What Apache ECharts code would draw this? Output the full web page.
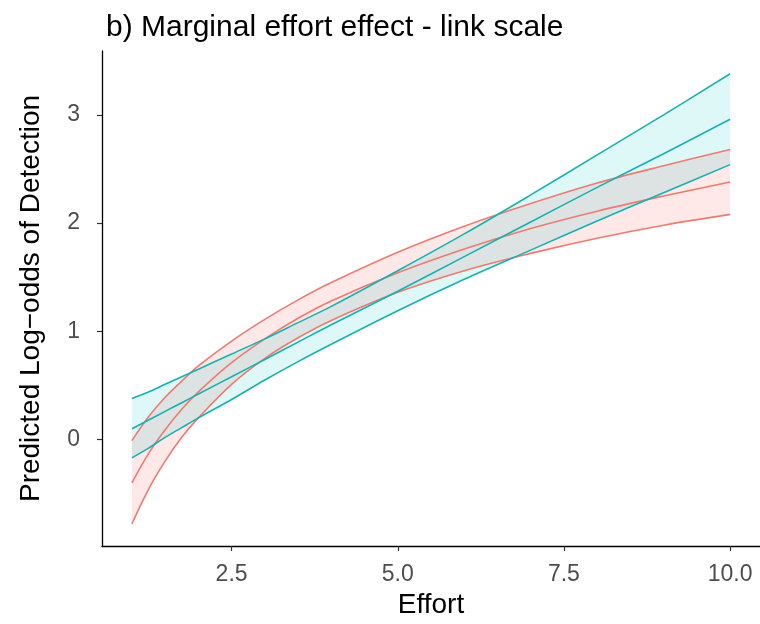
<!DOCTYPE html>
<html>
<head>
<meta charset="utf-8">
<title>Marginal effort effect - link scale</title>
<script src="https://cdn.jsdelivr.net/npm/echarts@6.0.0/dist/echarts.min.js"></script>
<style>
  html, body { margin: 0; padding: 0; background: #fff; }
  #chart { width: 760px; height: 624px; }
</style>
</head>
<body>
<div id="chart"></div>
<script>
const effort = [1, 1.25, 1.5, 1.75, 2, 2.5, 3, 3.5, 4, 5, 6, 7, 8, 9, 10];

// Linear model (teal)
const linMean  = [0.10, 0.18, 0.26, 0.34, 0.42, 0.58, 0.74, 0.90, 1.06, 1.37, 1.69, 2.01, 2.33, 2.64, 2.96];
const linUpper = [0.38, 0.44, 0.51, 0.58, 0.65, 0.79, 0.93, 1.08, 1.23, 1.56, 1.90, 2.26, 2.63, 3.00, 3.38];
const linLower = [-0.17, -0.08, 0.02, 0.11, 0.20, 0.37, 0.55, 0.72, 0.88, 1.19, 1.48, 1.75, 2.02, 2.28, 2.54];

// Log model (red)
const logMean  = [-0.40, -0.13, 0.09, 0.28, 0.44, 0.71, 0.93, 1.12, 1.28, 1.54, 1.76, 1.95, 2.11, 2.25, 2.38];
const logUpper = [-0.01, 0.21, 0.39, 0.54, 0.68, 0.91, 1.11, 1.29, 1.45, 1.73, 1.97, 2.18, 2.37, 2.53, 2.68];
const logLower = [-0.78, -0.46, -0.20, 0.02, 0.20, 0.51, 0.75, 0.94, 1.10, 1.36, 1.56, 1.72, 1.86, 1.98, 2.08];

const xTicks = [2.5, 5, 7.5, 10];
const yTicks = [0, 1, 2, 3];

const RED = '#EE7B71';
const TEAL = '#19B1AF';

const pairs = (ys) => effort.map((x, i) => [x, ys[i]]);

// Ribbon as one polygon: upper edge left->right, lower edge back
function ribbon(lo, hi, fill) {
  return {
    type: 'custom',
    silent: true,
    z: 1,
    data: [0],
    renderItem: (params, api) => {
      const pts = [];
      effort.forEach((x, i) => pts.push(api.coord([x, hi[i]])));
      for (let i = effort.length - 1; i >= 0; i--) pts.push(api.coord([effort[i], lo[i]]));
      return { type: 'polygon', shape: { points: pts }, style: { fill } };
    }
  };
}

function curve(ys, color) {
  return {
    type: 'line', data: pairs(ys), smooth: 0.35, showSymbol: false, silent: true,
    lineStyle: { color, width: 1.6 }, z: 3
  };
}

const chart = echarts.init(document.getElementById('chart'), null, { renderer: 'canvas' });
chart.setOption({
  animation: false,
  backgroundColor: '#fff',
  textStyle: { fontFamily: 'Liberation Sans, Arial, sans-serif' },
  title: {
    text: 'b) Marginal effort effect - link scale',
    left: 101, top: 8,
    textStyle: { fontSize: 30, fontWeight: 'normal', color: '#000' }
  },
  grid: { left: 102, right: 0, top: 51, bottom: 78, outerBoundsMode: 'none' },
  xAxis: {
    type: 'value', min: 0.55, max: 10.45,
    name: 'Effort', nameLocation: 'middle', nameGap: 45,
    nameTextStyle: { fontSize: 28, color: '#000' },
    axisLine: { show: true, onZero: false, lineStyle: { color: '#000', width: 1.3 } },
    axisTick: { show: true, length: 5, customValues: xTicks, lineStyle: { color: '#333', width: 1.2 } },
    axisLabel: { fontSize: 23, color: '#4D4D4D', margin: 17, customValues: xTicks, formatter: (v) => v.toFixed(1) },
    splitLine: { show: false }
  },
  yAxis: {
    type: 'value', min: -0.984, max: 3.59,
    name: 'Predicted Log\u2212odds of Detection', nameLocation: 'middle', nameGap: 57,
    nameTextStyle: { fontSize: 28, color: '#000' },
    axisLine: { show: true, onZero: false, lineStyle: { color: '#000', width: 1.3 } },
    axisTick: { show: true, length: 5, customValues: yTicks, lineStyle: { color: '#333', width: 1.2 } },
    axisLabel: { fontSize: 23, color: '#4D4D4D', margin: 22, customValues: yTicks },
    splitLine: { show: false }
  },
  series: [
    ribbon(logLower, logUpper, 'rgba(248,118,109,0.16)'),
    ribbon(linLower, linUpper, 'rgba(0,191,196,0.13)'),
    curve(logLower, RED),
    curve(logMean, RED),
    curve(logUpper, RED),
    curve(linLower, TEAL),
    curve(linMean, TEAL),
    curve(linUpper, TEAL)
  ]
});
</script>
</body>
</html>
